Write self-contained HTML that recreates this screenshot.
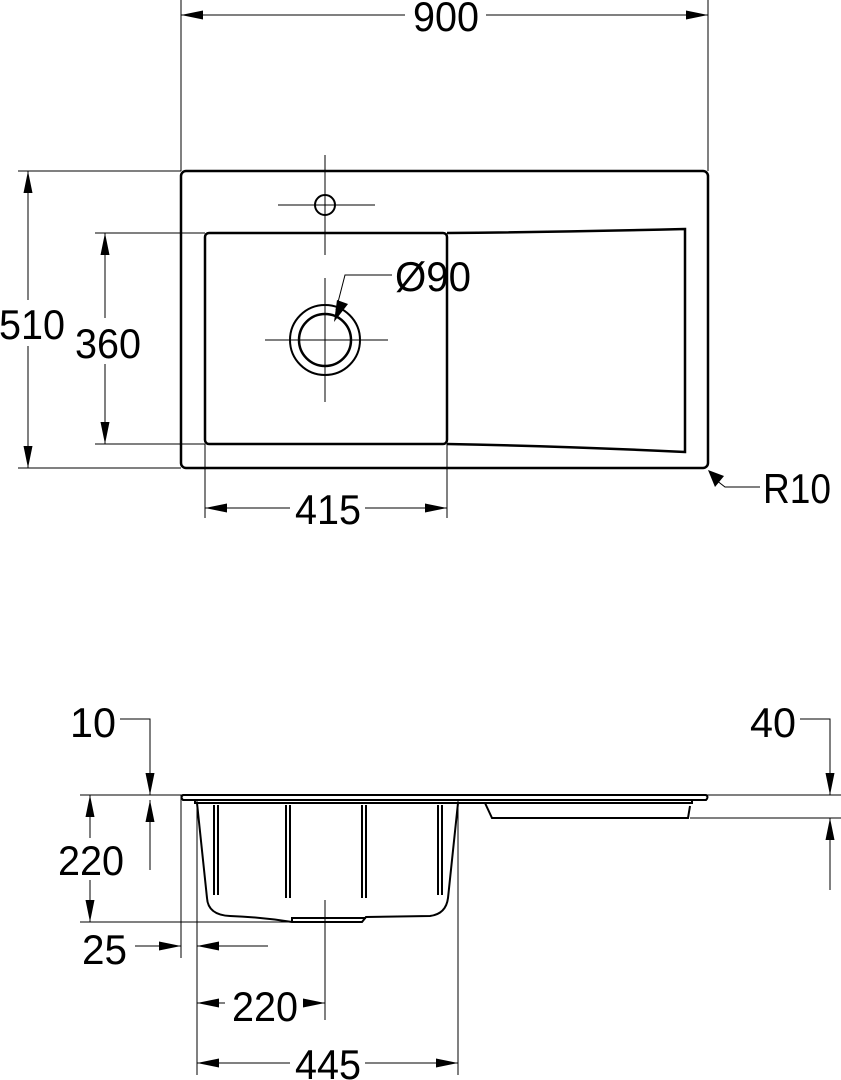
<!DOCTYPE html>
<html><head><meta charset="utf-8"><style>
html,body{margin:0;padding:0;background:#fff;}
svg{display:block;}
text{font-family:"Liberation Sans Narrow","Liberation Sans",sans-serif;font-size:42px;fill:#000;}
</style></head><body>
<svg width="841" height="1080" viewBox="0 0 841 1080" xmlns="http://www.w3.org/2000/svg">
<defs>
<marker id="a" viewBox="0 0 22 10" refX="22" refY="5" markerWidth="22" markerHeight="10" markerUnits="userSpaceOnUse" orient="auto-start-reverse"><path d="M0,0.5 L22,5 L0,9.5 z" fill="#000"/></marker>
</defs>
<g stroke="#000" stroke-width="1" fill="none">
<line x1="181" y1="0" x2="181" y2="171"/>
<line x1="708" y1="0" x2="708" y2="171"/>
<line x1="18" y1="171" x2="181" y2="171"/>
<line x1="18" y1="468" x2="181" y2="468"/>
<line x1="95" y1="233" x2="205" y2="233"/>
<line x1="95" y1="444" x2="205" y2="444"/>
<line x1="205" y1="444" x2="205" y2="518"/>
<line x1="447" y1="444" x2="447" y2="518"/>
<line x1="181" y1="15" x2="405" y2="15" marker-start="url(#a)"/>
<line x1="486" y1="15" x2="708" y2="15" marker-end="url(#a)"/>
<line x1="28" y1="171" x2="28" y2="300" marker-start="url(#a)"/>
<line x1="28" y1="346" x2="28" y2="468" marker-end="url(#a)"/>
<line x1="105" y1="233" x2="105" y2="318" marker-start="url(#a)"/>
<line x1="105" y1="364" x2="105" y2="444" marker-end="url(#a)"/>
<line x1="205" y1="508" x2="290" y2="508" marker-start="url(#a)"/>
<line x1="365" y1="508" x2="447" y2="508" marker-end="url(#a)"/>
<line x1="325" y1="155" x2="325" y2="255"/>
<line x1="278" y1="205" x2="375" y2="205"/>
<line x1="325" y1="278" x2="325" y2="402"/>
<line x1="265" y1="340" x2="388" y2="340"/>
<polyline points="392,275 345,275 336,310"/>
<polyline points="760,487 725,487 716,480"/>
</g>
<path d="M334,322 L337,300 L348,304 z" fill="#000"/>
<path d="M708,470 L724,476 L715,487 z" fill="#000"/>
<g stroke="#000" stroke-width="2.5" fill="none">
<rect x="181" y="171" width="527" height="297" rx="5"/>
<rect x="205" y="233" width="242" height="211" rx="4"/>
<path d="M447,233 Q560,232 685,229 L685,452 Q560,446 447,444"/>
<circle cx="325" cy="205" r="10" stroke-width="2"/>
<circle cx="325" cy="340" r="35" stroke-width="2"/>
<circle cx="325" cy="340" r="26" stroke-width="2.5"/>
</g>
<text x="413" y="31" textLength="66" lengthAdjust="spacingAndGlyphs">900</text>
<text x="-1" y="339" textLength="66" lengthAdjust="spacingAndGlyphs">510</text>
<text x="75" y="358" textLength="66" lengthAdjust="spacingAndGlyphs">360</text>
<text x="295" y="524" textLength="66" lengthAdjust="spacingAndGlyphs">415</text>
<text x="395" y="291" textLength="76" lengthAdjust="spacingAndGlyphs">Ø90</text>
<text x="763" y="503" textLength="68" lengthAdjust="spacingAndGlyphs">R10</text>

<g stroke="#000" stroke-width="1" fill="none">
<line x1="80" y1="795" x2="841" y2="795"/>
<line x1="690" y1="818" x2="841" y2="818"/>
<line x1="80" y1="922" x2="290" y2="922"/>
<polyline points="120,719 150,719 150,795" marker-end="url(#a)"/>
<line x1="150" y1="870" x2="150" y2="800" marker-end="url(#a)"/>
<polyline points="800,719 830,719 830,795" marker-end="url(#a)"/>
<line x1="830" y1="890" x2="830" y2="818" marker-end="url(#a)"/>
<line x1="90" y1="838" x2="90" y2="795" marker-end="url(#a)"/>
<line x1="90" y1="880" x2="90" y2="922" marker-end="url(#a)"/>
<line x1="181" y1="795" x2="181" y2="958"/>
<line x1="197" y1="800" x2="197" y2="1075"/>
<line x1="458" y1="800" x2="458" y2="1075"/>
<line x1="325" y1="900" x2="325" y2="1020"/>
<line x1="135" y1="946" x2="181" y2="946" marker-end="url(#a)"/>
<line x1="268" y1="946" x2="197" y2="946" marker-end="url(#a)"/>
<line x1="225" y1="1003" x2="197" y2="1003" marker-end="url(#a)"/>
<line x1="303" y1="1003" x2="325" y2="1003" marker-end="url(#a)"/>
<line x1="290" y1="1063" x2="197" y2="1063" marker-end="url(#a)"/>
<line x1="365" y1="1063" x2="458" y2="1063" marker-end="url(#a)"/>
</g>
<g stroke="#000" stroke-width="2" fill="none">
<path d="M183,795 L706,795 Q709,797 706,800 L183,800 Q180,797 183,795 z"/>
<path d="M195,800 L195,803 L692,803 L692,800"/>
<path d="M197,803 L207,898 Q208,915 230,916 Q260,917 292,922 L362,922 L366,917 L430,916 Q446,914 448,898 L458,803"/>
<path d="M292,922 L292,918 L366,918"/>
<path d="M485,803 L492,818 L688,818 L690,806"/>
<path d="M214,805 L214,895 M218,805 L218,895"/>
<path d="M286,805 L286,898 M290,805 L290,898"/>
<path d="M362,805 L362,898 M366,805 L366,898"/>
<path d="M438,805 L438,895 M442,805 L442,895"/>
</g>
<text x="70" y="737" textLength="46" lengthAdjust="spacingAndGlyphs">10</text>
<text x="750" y="737" textLength="46" lengthAdjust="spacingAndGlyphs">40</text>
<text x="58" y="875" textLength="66" lengthAdjust="spacingAndGlyphs">220</text>
<text x="82" y="964" textLength="45" lengthAdjust="spacingAndGlyphs">25</text>
<text x="232" y="1021" textLength="66" lengthAdjust="spacingAndGlyphs">220</text>
<text x="295" y="1079" textLength="66" lengthAdjust="spacingAndGlyphs">445</text>
</svg>
</body></html>
